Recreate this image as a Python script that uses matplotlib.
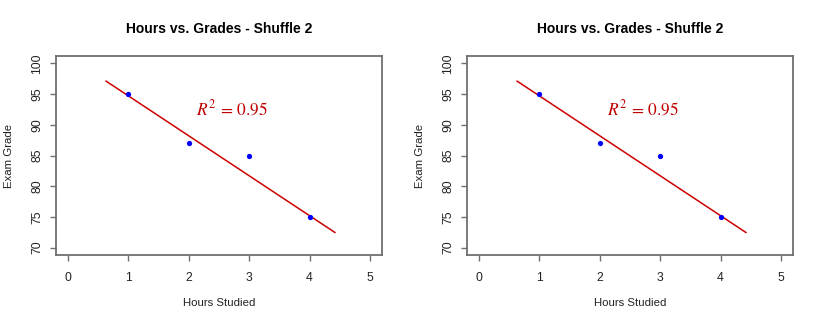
import matplotlib
matplotlib.use("Agg")
import matplotlib.pyplot as plt
import numpy as np

plt.rcParams['font.family'] = ['Liberation Sans', 'DejaVu Sans']
plt.rcParams['mathtext.fontset'] = 'stix'

# Study data
hours = [1, 2, 3, 4]
grades = [95, 87, 85, 75]

# Trend line drawn over the plot
line_x_range = [0.63, 4.42]
line_intercept = 101.2
line_slope = -6.5
r_squared = 0.95

x_ticks = [0, 1, 2, 3, 4, 5]
y_ticks = [70, 75, 80, 85, 90, 95, 100]
title = "Hours vs. Grades - Shuffle 2"

W, H = 822, 325
fig = plt.figure(figsize=(W / 100, H / 100), dpi=100)

box_color = '#6f6f6f'
text_color = '#222222'


def draw_panel(left_px):
    ax = fig.add_axes([left_px / W, 1 - 255 / H, 326 / W, 199 / H])
    ax.set_xlim(-0.2, 5.2)
    ax.set_ylim(68.8, 101.2)
    lx = np.array(line_x_range)
    ax.plot(lx, line_intercept + line_slope * lx, color='#cc0000', lw=1.1, zorder=2)
    ax.plot(hours, grades, 'o', color='#0000ff', ms=3.8, mec='none', zorder=3)
    ax.text(2.72, 92.7, r'$R^2\,=\,%.2f$' % r_squared, color='#c00000',
            fontsize=12.5, ha='center', va='center')
    for s in ax.spines.values():
        s.set_color(box_color)
        s.set_linewidth(1.3)
    ax.set_xticks(x_ticks)
    ax.set_yticks(y_ticks)
    ax.tick_params(direction='out', length=4.5, width=1.0, color=box_color,
                   labelsize=8.7, labelcolor=text_color)
    ax.tick_params(axis='x', pad=7.5)
    ax.tick_params(axis='y', pad=4.5)
    for lab in ax.get_yticklabels():
        lab.set_rotation(90)
        lab.set_va('center')
    ax.text(0.5, 1.136, title, transform=ax.transAxes, fontsize=10,
            fontweight='bold', color='black', ha='center', va='center')
    ax.set_xlabel('Hours Studied', fontsize=8.2, color=text_color)
    ax.xaxis.set_label_coords(0.5, -0.241)
    ax.xaxis.label.set_va('center')
    ax.set_ylabel('Exam Grade', fontsize=8.2, color=text_color)
    ax.yaxis.set_label_coords(-0.144, 0.5)
    ax.yaxis.label.set_va('center')
    return ax


draw_panel(56)
draw_panel(467)

fig.savefig('out.png', dpi=100)
